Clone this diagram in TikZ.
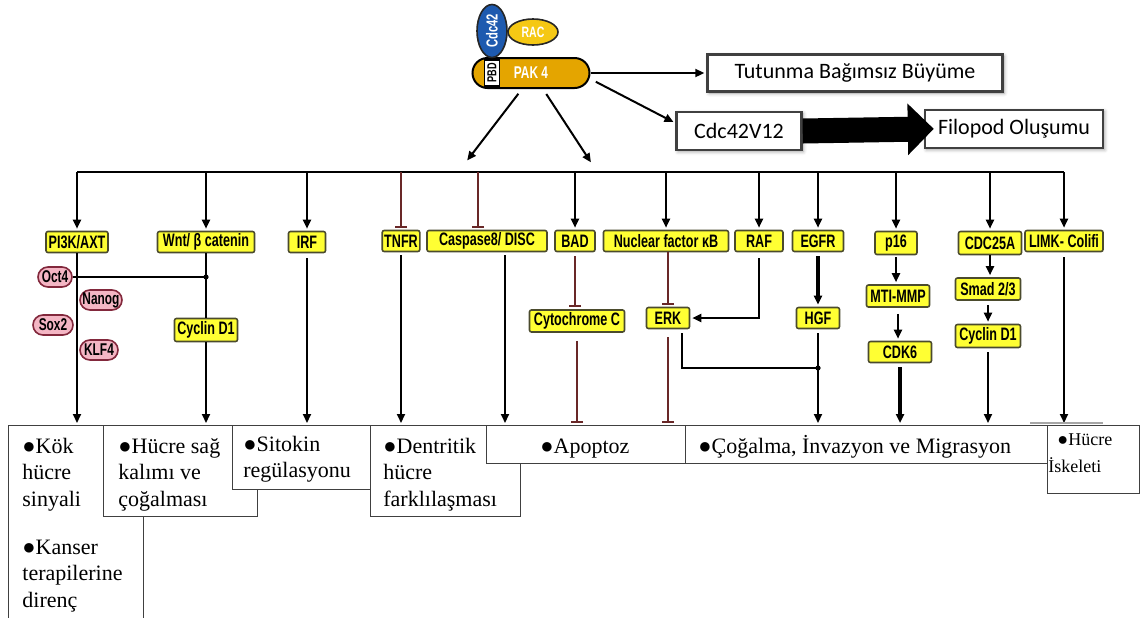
\documentclass[tikz,border=0pt]{standalone}
\usepackage{fontspec}
\setmainfont{Liberation Serif}
\newfontfamily\boxfont[FakeStretch=0.7]{Liberation Sans}
\newfontfamily\calfont{Carlito}
\usetikzlibrary{arrows.meta,positioning,shapes.geometric,shadows.blur}
\definecolor{myyellow}{RGB}{255,255,51}
\definecolor{myborder}{RGB}{75,75,45}
\definecolor{mypink}{RGB}{244,182,196}
\definecolor{mypinkline}{RGB}{130,40,60}
\definecolor{myred}{RGB}{105,40,40}
\definecolor{myblue}{RGB}{30,90,175}
\definecolor{mygold}{RGB}{228,165,0}
\definecolor{myrac}{RGB}{245,200,20}
\newcommand{\topstrut}{\rule{0pt}{9.5pt}}

\begin{document}
\begin{tikzpicture}[x=0.5pt, y=-0.5pt,
    ybox/.style={draw=myborder, fill=myyellow, line width=0.8pt, rounded corners=1pt, inner sep=1pt,
      minimum height=10.5pt, font=\boxfont\bfseries\fontsize{9}{9}\selectfont},
    pbox/.style={draw=mypinkline, fill=mypink, line width=0.8pt, rounded corners=5pt, inner sep=1pt,
      minimum height=10pt, font=\boxfont\bfseries\fontsize{8.5}{9}\selectfont},
    gbox/.style={draw=black!75, fill=white, line width=1.2pt, inner sep=0pt,
      blur shadow={shadow xshift=0.8pt, shadow yshift=-0.8pt, shadow blur steps=4},
      font=\calfont\fontsize{11}{13}\selectfont},
    obox/.style={draw=black!75, fill=white, line width=0.6pt, anchor=north west, inner sep=0pt},
    otext/.style={anchor=north west, inner sep=0pt, align=left, font=\fontsize{11}{13.25}\selectfont},
    arr/.style={-{Triangle[length=4.5pt,width=4pt]}, line width=1pt, shorten >=1pt},
    inh/.style={-{Bar[width=6pt]}, draw=myred, line width=1pt, shorten >=1pt},
    bigarr/.style={-{Triangle[length=13pt,width=25pt]}, line width=12.5pt}]
  \useasboundingbox (0,0) rectangle (1141,617);

  \node[draw=black, line width=1pt, fill=mygold, rounded corners=7.5pt, minimum width=58.5pt, minimum height=15pt,
    inner sep=0pt, text=white, font=\boxfont\bfseries\fontsize{8.5}{9}\selectfont] (pak) at (531,73) {PAK 4};
  \node[draw=black, line width=0.8pt, fill=white, rotate=90, minimum width=13pt, minimum height=7.5pt,
    inner sep=0pt, font=\boxfont\bfseries\fontsize{6.5}{7}\selectfont] (pbd) at (492,73) {PBD};
  \node[ellipse, draw=black!85, line width=0.8pt, fill=myblue, rotate=90, minimum width=26.5pt, minimum height=15pt,
    inner sep=0pt, text=white, font=\boxfont\bfseries\fontsize{8}{8}\selectfont] (cdc) at (492,31) {Cdc42};
  \node[ellipse, draw=black!85, line width=0.8pt, fill=myrac, minimum width=25pt, minimum height=13pt,
    inner sep=0pt, text=white, font=\boxfont\bfseries\fontsize{7.5}{8}\selectfont] (rac) at (533,32) {RAC};

  \node[gbox, minimum width=147.5pt, minimum height=18.5pt] (tut) at (855,73) {Tutunma Bağımsız Büyüme};
  \node[gbox, minimum width=62.5pt, minimum height=19pt] (cdcv) at (739,131) {Cdc42V12};
  \node[gbox, minimum width=89pt, minimum height=19pt] (filo) at (1014,129) {Filopod Oluşumu};

  \draw[arr] (pak.east) -- (tut.west);
  \draw[arr, shorten <=3pt] ([yshift=-3pt]pak.east) -- ([yshift=4pt]cdcv.west);
  \draw[bigarr, shorten >=-5pt] (cdcv.east) -- (filo.west);

  \coordinate (sl) at (466,162);
  \coordinate (sr) at (592,164);
  \draw[arr, shorten <=3pt] ([xshift=-4.5pt]pak.south) -- (sl);
  \draw[arr, shorten <=3pt] ([xshift=6pt]pak.south) -- (sr);

  \node[ybox, minimum width=31pt] (pik) at (77,242) {PI3K/AXT};
  \node[ybox, minimum width=48.5pt] (wnt) at (206,242) {Wnt/ β catenin};
  \node[ybox, minimum width=18.5pt] (irf) at (307,242) {IRF};
  \node[ybox, minimum width=17.5pt] (tnfr) at (401,241) {TNFR};
  \node[ybox, minimum width=60pt] (casp) at (487,241) {Caspase8/ DISC};
  \node[ybox, minimum width=20pt] (bad) at (575,241) {BAD};
  \node[ybox, minimum width=62.5pt] (nfkb) at (666,241) {Nuclear factor κB};
  \node[ybox, minimum width=24pt] (raf) at (759,241) {RAF};
  \node[ybox, minimum width=25.5pt] (egfr) at (818,241) {EGFR};
  \node[ybox, minimum width=21pt, minimum height=11.5pt] (p16) at (896,243) {p16};
  \node[ybox, minimum width=31.5pt, minimum height=11.5pt] (cdc25) at (990,243) {CDC25A};
  \node[ybox, minimum width=39pt] (limk) at (1064,241) {LIMK- Colifi};

  \node[pbox, minimum width=17pt] (oct) at (55,277) {Oct4};
  \node[pbox, minimum width=21pt] (nanog) at (101,300) {Nanog};
  \node[pbox, minimum width=20pt] (sox) at (53,325) {Sox2};
  \node[pbox, minimum width=19pt] (klf) at (99,350) {KLF4};

  \node[ybox, minimum width=31.5pt, minimum height=11.5pt] (cyca) at (206,330) {Cyclin D1};
  \node[ybox, minimum width=47.5pt, minimum height=11pt] (cytc) at (577,321) {Cytochrome C};
  \node[ybox, minimum width=21.5pt] (erk) at (668,318) {ERK};
  \node[ybox, minimum width=21.5pt] (hgf) at (818,318) {HGF};
  \node[ybox, minimum width=31.5pt, minimum height=11pt] (mmp) at (898,296) {MTI-MMP};
  \node[ybox, minimum width=31.5pt] (cdk) at (900,352) {CDK6};
  \node[ybox, minimum width=32.5pt, minimum height=11pt] (smad) at (988,289) {Smad 2/3};
  \node[ybox, minimum width=32.5pt, minimum height=11.5pt] (cycb) at (988,336) {Cyclin D1};

  \coordinate (bus) at (0,172);
  \coordinate (base) at (0,425);
  \coordinate (jrow) at (0,368);
  \coordinate (caspt) at ([xshift=-4.5pt]casp.north);
  \coordinate (caspb) at ([xshift=9pt]casp.south);
  \coordinate (erkb) at ([xshift=7pt]erk.south);
  \coordinate (jn) at (hgf.south |- jrow);

  \draw[line width=1pt] (pik.north |- bus) -- (limk.north |- bus);
  \foreach \n in {pik,wnt,irf,bad,nfkb,raf,egfr,p16,cdc25,limk}
    \draw[arr] (\n.north |- bus) -- (\n.north);
  \draw[inh] (tnfr.north |- bus) -- (tnfr.north);
  \draw[inh] (caspt |- bus) -- (caspt);

  \draw[line width=1pt] (oct.east) -- (wnt.south |- oct.east);
  \fill (wnt.south |- oct.east) circle (1.3pt);
  \draw[line width=1pt, shorten <=2pt] (erkb) |- (jn);
  \fill (jn) circle (1.3pt);
  \draw[arr, shorten <=3pt] (raf.south) |- (erk.east);

  \path (pik.south) edge[arr] (pik.south |- base)
        (wnt.south) edge[line width=1pt] (cyca.north)
        (cyca.south) edge[arr] (cyca.south |- base)
        (irf.south) edge[arr, shorten <=2.5pt] (irf.south |- base)
        (tnfr.south) edge[arr, shorten <=1.5pt] (tnfr.south |- base)
        (caspb) edge[arr, shorten <=1.5pt] (caspb |- base)
        (bad.south) edge[inh, shorten <=2pt] (bad.south |- cytc.north)
        (cytc.south) edge[inh, shorten <=4pt] (cytc.south |- base)
        (nfkb.south -| erk.north) edge[inh] (erk.north)
        (erk.south) edge[inh, shorten <=4pt] (erk.south |- base)
        (egfr.south) edge[arr, line width=1.6pt, shorten <=2pt] (hgf.north)
        (hgf.south) edge[arr, shorten <=2pt] (hgf.south |- base)
        (p16.south) edge[arr, shorten <=1pt] (p16.south |- mmp.north)
        (mmp.south) edge[arr, shorten <=3pt] (mmp.south |- cdk.north)
        (cdk.south) edge[arr, line width=1.6pt, shorten <=2pt] (cdk.south |- base)
        (cdc25.south) edge[arr] (cdc25.south |- smad.north)
        (smad.south) edge[arr, shorten <=2pt] (smad.south |- cycb.north)
        (cycb.south) edge[arr, shorten <=2pt] (cycb.south |- base)
        (limk.south) edge[arr, shorten <=2.5pt] (limk.south |- base);

  \draw[black!35, line width=1.2pt] (1030,423) -- (1103,423);

  \node[obox, minimum width=67.5pt, minimum height=102.5pt] (b1) at (8,425) {};
  \node[obox, minimum width=77pt, minimum height=45.5pt] (b2) at (103,425) {};
  \node[obox, minimum width=69pt, minimum height=32pt] (b3) at (232,425) {};
  \node[obox, minimum width=75pt, minimum height=45.5pt] (b4) at (370,425) {};
  \node[obox, minimum width=99.5pt, minimum height=19pt] (b5) at (486,425) {};
  \node[obox, minimum width=181pt, minimum height=19pt] (b6) at (685,425) {};
  \node[obox, minimum width=46pt, minimum height=34pt] (b7) at (1047,425) {};

  \node[otext] (t1) at ([xshift=7pt, yshift=-4.5pt]b1.north west)
    {\topstrut●Kök\\hücre\\sinyali\\[10.75pt]●Kanser\\terapilerine\\direnç};
  \node[otext] (t2) at ([xshift=7.5pt, yshift=-4.5pt]b2.north west) {\topstrut●Hücre sağ\\kalımı ve\\çoğalması};
  \node[otext] (t3) at ([xshift=5.5pt, yshift=-3.5pt]b3.north west) {\topstrut●Sitokin\\regülasyonu};
  \node[otext] (t4) at ([xshift=6.5pt, yshift=-4.5pt]b4.north west) {\topstrut●Dentritik\\hücre\\farklılaşması};
  \node[otext] (t5) at ([xshift=27pt, yshift=-4.5pt]b5.north west) {\topstrut●Apoptoz};
  \node[otext] (t6) at ([xshift=6.5pt, yshift=-4.5pt]b6.north west) {\topstrut●Çoğalma, İnvazyon ve Migrasyon};
  \node[otext, font=\fontsize{9}{13.5}\selectfont] (t7) at ([xshift=0.5pt, yshift=-0.5pt]b7.north west)
    {\topstrut\hspace*{4.5pt}●Hücre\\İskeleti};
\end{tikzpicture}
\end{document}
